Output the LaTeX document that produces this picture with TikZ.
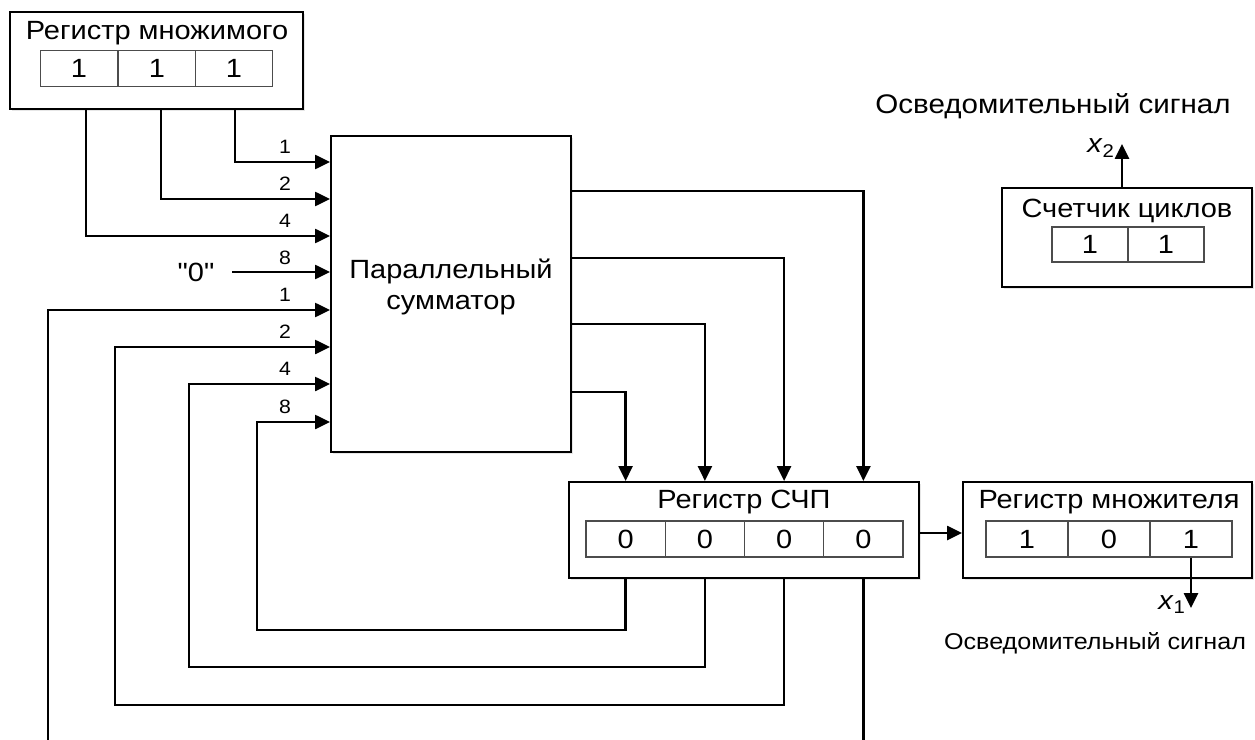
\documentclass[tikz,border=0pt]{standalone}
\usepackage{fontspec}
\setmainfont[FakeStretch=1.1]{Liberation Sans}
\newfontfamily\plainquote[FakeStretch=1.1]{Liberation Sans}
\usepackage{tikz}
\usetikzlibrary{arrows.meta,shadows}

\begin{document}
\begin{tikzpicture}[x=0.02cm,y=-0.02cm,
    reg/.style={draw,line width=1.2pt,fill=white,drop shadow={shadow xshift=1.2pt,shadow yshift=-1.2pt,opacity=0.2}},
    cell/.style={draw=black!70,line width=0.6pt,fill=white,inner sep=0pt,minimum height=0.72cm,font=\fontsize{15}{17}\selectfont},
    ttl/.style={inner sep=0pt,font=\fontsize{15}{17}\selectfont},
    bit/.style={inner sep=0pt,font=\fontsize{11}{13}\selectfont},
    sig/.style={line width=1.3pt,-{Triangle[length=8.5pt,width=8pt]}},
    wire/.style={line width=1.3pt}]
    \useasboundingbox (0,0) rectangle (1255,740);
        \node[reg,minimum width=5.86cm,minimum height=1.94cm] (mnd) at (156.5,60.5) {};
        \node[ttl] (mndT) at (157,33) {Регистр множимого};
        \foreach \i/\x in {1/79,2/157,3/234}
            \node[cell,minimum width=1.554cm] (mnd\i) at (\x,68.5) {1};
        \node[reg,minimum width=4.8cm,minimum height=6.32cm] (sum) at (451,294) {};
        \node[ttl,align=center,font=\fontsize{15}{18}\selectfont] (sumT) at (451,287) {Параллельный\\сумматор};
        \node[reg,minimum width=7cm,minimum height=1.92cm] (schp) at (744,530) {};
        \node[ttl] (schpT) at (744,502) {Регистр СЧП};
        \foreach \i/\x in {1/625.6,2/704.9,3/784.1,4/863.4}
            \node[cell,minimum width=1.585cm] (schp\i) at (\x,539) {0};
        \node[reg,minimum width=5.78cm,minimum height=1.92cm] (mnl) at (1107.5,530) {};
        \node[ttl] (mnlT) at (1109,502) {Регистр множителя};
        \foreach \i/\x/\v in {1/1027/1,2/1109/0,3/1191/1}
            \node[cell,minimum width=1.64cm] (mnl\i) at (\x,539) {\v};
        \node[reg,minimum width=5cm,minimum height=1.98cm] (cnt) at (1127,237.5) {};
        \node[ttl] (cntT) at (1127,211) {Счетчик циклов};
        \foreach \i/\x in {1/1090,2/1166}
            \node[cell,minimum width=1.52cm,minimum height=0.7cm] (cnt\i) at (\x,244.5) {1};
        \foreach \x/\y/\b in {235/162/1,161/199/2,86/236/4}{
            \draw[sig] (mnd.south -| \x,0) |- (sum.west |- 0,\y);
            \node[bit] at (285,\y-15) {\b};
        }
        \node[ttl,inner xsep=10pt,font=\plainquote\fontsize{15}{17}\selectfont] (zero) at (196,272) {"0"};
        \draw[sig] (zero.east) -- (sum.west |- zero.east);
        \node[bit] at (285,258) {8};
        \foreach \y/\i in {191/4,258/3,324/2,392/1}
            \draw[sig] (sum.east |- 0,\y) -| (schp\i |- schp.north);
        \foreach \i/\y/\x/\t/\b in {1/630/257/422/8,2/667/189/384/4,3/705/115/347/2}{
            \draw[sig] (schp\i |- schp.south) |- (\x,\y) |- (sum.west |- 0,\t);
            \node[bit] at (285,\t-15) {\b};
        }
        \coordinate (cut1) at (schp4 |- 0,740);
        \coordinate (cut2) at (48,740);
        \draw[wire] (schp4 |- schp.south) -- (cut1);
        \draw[sig] (cut2) |- (sum.west |- 0,310);
        \node[bit] at (285,295) {1};
        \draw[sig] (schp.east |- 0,533) -- (mnl.west |- 0,533);
        \coordinate (x1end) at (mnl3 |- 0,608);
        \draw[sig] (mnl3.south) -- (x1end);
        \node[ttl] (x1) at (1172,605) {\textit{x}\textsubscript{1}};
        \node[ttl,font=\fontsize{13}{15}\selectfont] (info1) at (1095,643) {Осведомительный сигнал};
        \coordinate (x2end) at (1122,144);
        \draw[sig] (cnt.north -| x2end) -- (x2end);
        \node[ttl] (x2) at (1101,148) {\textit{x}\textsubscript{2}};
        \node[ttl,font=\fontsize{15.3}{17}\selectfont] (info2) at (1053,106) {Осведомительный сигнал};
    \end{tikzpicture}
\end{document}
